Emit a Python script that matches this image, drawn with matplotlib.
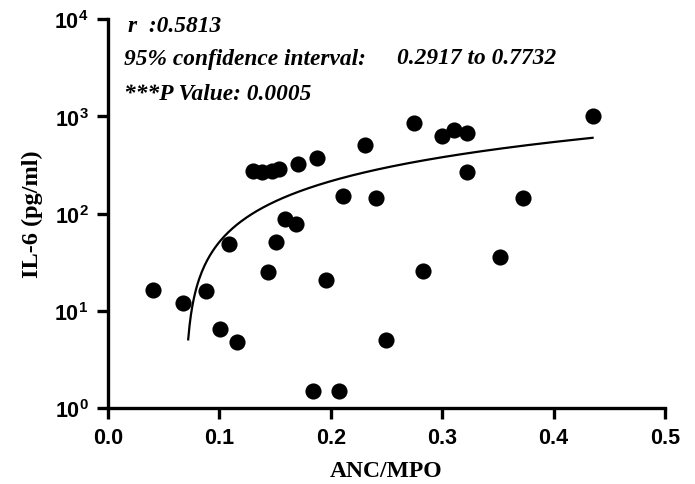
import matplotlib
matplotlib.use("Agg")
import matplotlib.pyplot as plt
import numpy as np

# Data
anc_mpo = [0.040, 0.067, 0.088, 0.1005, 0.116, 0.109,
           0.130, 0.138, 0.147, 0.1535, 0.1706, 0.1876,
           0.159, 0.169, 0.151, 0.1436, 0.196, 0.184, 0.2075,
           0.211, 0.231, 0.275, 0.300, 0.311, 0.322, 0.322,
           0.2406, 0.3725, 0.435, 0.352, 0.283, 0.2495]
il6 = [16.3, 12.0, 16.0, 6.5, 4.8, 49,
       273, 265, 273, 286, 322, 371,
       88, 78, 51, 25, 20.8, 1.5, 1.5,
       151, 505, 850, 624, 720, 670, 268,
       144, 144, 1000, 35.7, 25.6, 5.0]

fit_slope = 1640.0
fit_intercept = -113.0
fit_x_range = [0.072, 0.435]

x_ticks = [0.0, 0.1, 0.2, 0.3, 0.4, 0.5]
x_ticklabels = ["0.0", "0.1", "0.2", "0.3", "0.4", "0.5"]
y_ticks = [1, 10, 100, 1000, 10000]
y_ticklabels = [r"$10^{0}$", r"$10^{1}$", r"$10^{2}$", r"$10^{3}$", r"$10^{4}$"]

stat_lines = ["r  :0.5813", "95% confidence interval:", "0.2917 to 0.7732", "***P Value: 0.0005"]

plt.rcParams['mathtext.fontset'] = 'custom'
plt.rcParams['mathtext.rm'] = 'Liberation Sans:bold'
plt.rcParams['mathtext.it'] = 'Liberation Sans:bold'
plt.rcParams['mathtext.bf'] = 'Liberation Sans:bold'

W, H = 695, 485
fig = plt.figure(figsize=(W / 100, H / 100), dpi=100)
ax = fig.add_axes([108 / W, 1 - 409 / H, (665 - 108) / W, (409 - 20) / H])

ax.scatter(anc_mpo, il6, s=135, color='black', zorder=3, linewidths=0)

xf = np.linspace(fit_x_range[0], fit_x_range[1], 300)
yf = fit_intercept + fit_slope * xf
ax.plot(xf, yf, color='black', lw=1.6, zorder=2)

ax.set_yscale('log')
ax.set_xlim(0, 0.5)
ax.set_ylim(1, 10000)
ax.set_xticks(x_ticks)
ax.set_xticklabels(x_ticklabels)
ax.set_yticks(y_ticks)
ax.set_yticklabels(y_ticklabels)
ax.yaxis.set_minor_locator(matplotlib.ticker.NullLocator())

for s in ['top', 'right']:
    ax.spines[s].set_visible(False)
for s in ['left', 'bottom']:
    ax.spines[s].set_linewidth(2.4)
ax.tick_params(axis='both', which='major', length=8, width=2.4, direction='out',
               labelsize=15.5, pad=6)
for lab in ax.get_xticklabels():
    lab.set_fontfamily('Liberation Sans')
    lab.set_fontweight('bold')

ax.set_xlabel("ANC/MPO", fontsize=17, fontfamily='Liberation Serif', fontweight='bold', labelpad=8)
ax.set_ylabel("IL-6 (pg/ml)", fontsize=17.5, fontfamily='Liberation Serif', fontweight='bold', labelpad=8)

tkw = dict(fontsize=16.8, fontfamily='Liberation Serif', fontweight='bold', fontstyle='italic',
           va='center', ha='left', transform=fig.transFigure)
fig.text(128 / W, 1 - 27 / H, stat_lines[0], **tkw)
fig.text(124 / W, 1 - 59 / H, stat_lines[1], **tkw)
fig.text(397 / W, 1 - 59 / H, stat_lines[2], **tkw)
fig.text(124 / W, 1 - 94 / H, stat_lines[3], **tkw)

fig.savefig("out.png", dpi=100)
